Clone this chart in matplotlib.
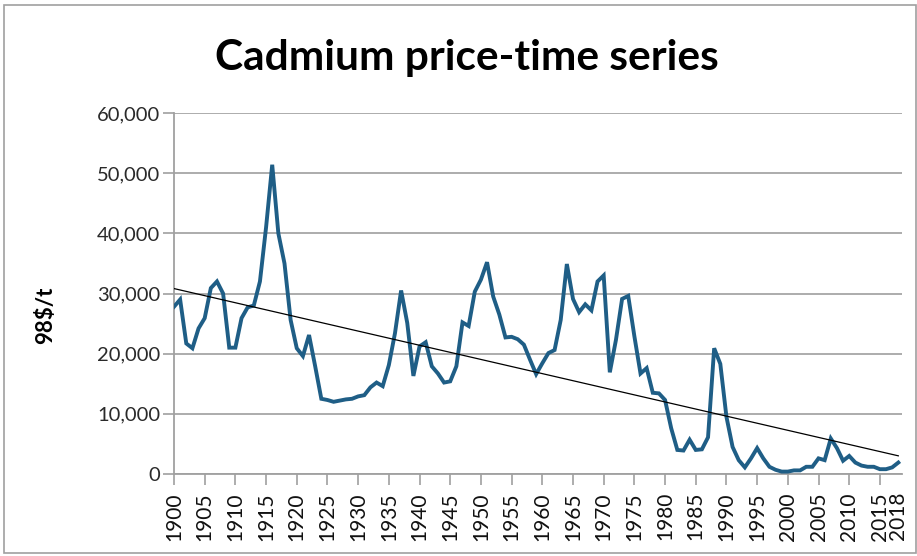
import matplotlib
matplotlib.use("Agg")
import matplotlib.pyplot as plt
import numpy as np
from matplotlib.patches import Rectangle

years = list(range(1900, 2019))
prices = [
    27800, 29000, 21700, 20900, 24200, 25900, 30900, 32000, 30000, 21000,  # 1900-1909
    21000, 25900, 27700, 28000, 32000, 41000, 51400, 40000, 35000, 25600,  # 1910-1919
    20900, 19600, 23100, 17900, 12500, 12300, 12000, 12200, 12400, 12500,  # 1920-1929
    12900, 13100, 14400, 15200, 14600, 18100, 23400, 30500, 25100, 16300,  # 1930-1939
    21200, 21900, 17900, 16700, 15200, 15400, 17900, 25200, 24600, 30300,  # 1940-1949
    32300, 35200, 29500, 26500, 22700, 22800, 22400, 21500, 19000, 16600,  # 1950-1959
    18400, 20100, 20600, 25600, 34900, 29100, 26900, 28200, 27200, 32000,  # 1960-1969
    33000, 16900, 22300, 29100, 29600, 22900, 16700, 17600, 13500, 13400,  # 1970-1979
    12300, 7600, 4000, 3900, 5700, 4000, 4100, 6100, 20900, 18300,        # 1980-1989
    9500, 4500, 2300, 1100, 2600, 4300, 2600, 1200, 700, 400,              # 1990-1999
    400, 600, 600, 1200, 1200, 2600, 2300, 5900, 4300, 2200,               # 2000-2009
    3000, 1900, 1400, 1200, 1200, 800, 800, 1100, 1900,                    # 2010-2018
]
title = "Cadmium price-time series"
ylabel = "98$/t"
xtick_years = list(range(1900, 2016, 5)) + [2018]
ytick_vals = [0, 10000, 20000, 30000, 40000, 50000, 60000]

fig = plt.figure(figsize=(9.17, 5.56), dpi=100)
fig.patch.set_facecolor("white")
fig.patches.append(Rectangle((4/917, 3/556), 912/917, 548/556, transform=fig.transFigure,
                             fill=False, edgecolor="#a0a0a0", linewidth=1.2))

ax = fig.add_axes([174/917, (556-474)/556, (902-174)/917, (474-113)/556])
ax.set_xlim(1900, 2018.6)
ax.set_ylim(0, 60000)

ax.plot(years, prices, color="#1f5e86", linewidth=2.8, solid_joinstyle="miter", zorder=3)

coef = np.polyfit(years, prices, 1)
trend = np.polyval(coef, [years[0], years[-1]])
ax.plot([years[0], years[-1]], trend, color="black", linewidth=0.9, zorder=4)

ax.set_yticks(ytick_vals)
ax.set_yticklabels([f"{v:,}" for v in ytick_vals], fontfamily="Lato", fontsize=14.5, color="#2a2a2a")
ax.set_xticks(xtick_years)
ax.set_xticklabels([str(y) for y in xtick_years], rotation=90, fontfamily="Lato",
                   fontsize=15, color="#111111")
ax.tick_params(axis="y", length=8, width=1.2, color="#a0a0a0", pad=2)
ax.tick_params(axis="x", length=8, width=1.2, color="#a0a0a0", pad=5)
ax.xaxis.get_major_ticks()[-1].tick1line.set_visible(False)

ax.grid(axis="y", color="#a6a6a6", linewidth=1.3)
ax.set_axisbelow(True)
for s in ["top", "right"]:
    ax.spines[s].set_visible(False)
for s in ["left", "bottom"]:
    ax.spines[s].set_color("#a0a0a0")
    ax.spines[s].set_linewidth(1.3)

fig.text(467/917, 1 - 58/556, title, ha="center", va="center", fontfamily="Lato",
         fontweight="bold", fontsize=30.5)
fig.text(46/917, 1 - 315/556, ylabel, ha="center", va="center", rotation=90,
         fontfamily="Lato", fontweight="bold", fontsize=16)

fig.savefig("out.png", dpi=100)
